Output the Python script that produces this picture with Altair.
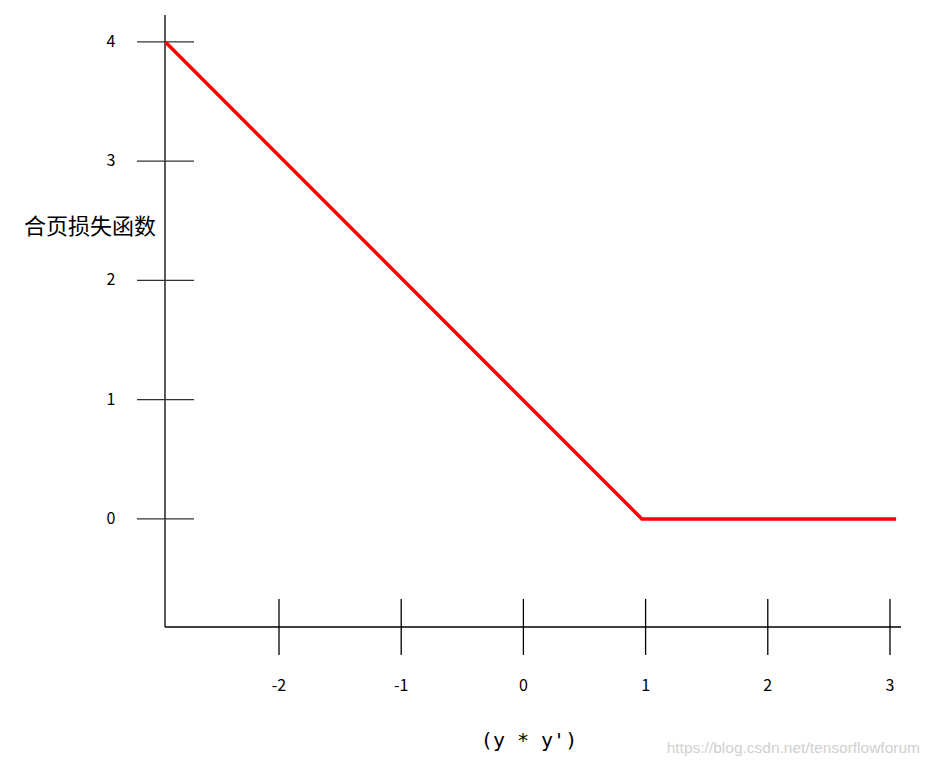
import altair as alt
import pandas as pd

# data
line_x = [-2.93, 0.97, 3.05]
line_y = [4, 0, 0]
x_ticks = [-2, -1, 0, 1, 2, 3]
y_ticks = [0, 1, 2, 3, 4]
x_title = "(y * y')"
y_title = "合页损失函数"
watermark = "https://blog.csdn.net/tensorflowforum"

W, H = 735, 612
FONT = "Noto Sans CJK SC"

xs = alt.Scale(domain=[-2.933, 3.082], nice=False, zero=False)
ys = alt.Scale(domain=[-0.906, 4.226], nice=False, zero=False)

line_df = pd.DataFrame({"x": line_x, "y": line_y})
xt_df = pd.DataFrame({"v": x_ticks, "lab": [str(v) for v in x_ticks]})
yt_df = pd.DataFrame({"v": y_ticks, "lab": [str(v) for v in y_ticks]})
one = pd.DataFrame({"a": [0]})

line = alt.Chart(line_df).mark_line(color="#ff0000", strokeWidth=3.5).encode(
    x=alt.X("x:Q", scale=xs, axis=None),
    y=alt.Y("y:Q", scale=ys, axis=None),
)

x_axis_line = alt.Chart(one).mark_rule(color="#000", strokeWidth=1.3).encode(
    x=alt.value(0), x2=alt.value(W + 1), y=alt.value(H)
)
y_axis_line = alt.Chart(one).mark_rule(color="#000", strokeWidth=1.3).encode(
    x=alt.value(0), y=alt.value(0), y2=alt.value(H)
)

x_tick_marks = alt.Chart(xt_df).mark_rule(color="#000", strokeWidth=1.3).encode(
    x=alt.X("v:Q", scale=xs, axis=None), y=alt.value(H - 28), y2=alt.value(H + 28)
)
y_tick_marks = alt.Chart(yt_df).mark_rule(color="#333", strokeWidth=1.3).encode(
    y=alt.Y("v:Q", scale=ys, axis=None), x=alt.value(-28), x2=alt.value(29)
)

x_labels = alt.Chart(xt_df).mark_text(
    font=FONT, fontSize=16, color="#000", align="center", baseline="middle"
).encode(x=alt.X("v:Q", scale=xs, axis=None), y=alt.value(H + 59), text="lab:N")

y_labels = alt.Chart(yt_df).mark_text(
    font=FONT, fontSize=16, color="#000", align="center", baseline="middle"
).encode(y=alt.Y("v:Q", scale=ys, axis=None), x=alt.value(-54), text="lab:N")

y_title_mark = alt.Chart(one).mark_text(
    font=FONT, fontSize=22, color="#000", align="center", baseline="middle", text=y_title
).encode(x=alt.value(-75), y=alt.value(212))

x_title_mark = alt.Chart(one).mark_text(
    font="DejaVu Sans Mono", fontSize=20, color="#000", align="center", baseline="middle", text=x_title
).encode(x=alt.value(364), y=alt.value(726))

wm = alt.Chart(one).mark_text(
    font="Liberation Sans", fontSize=15.5, color="#d0d0d0", align="right", baseline="middle", text=watermark
).encode(x=alt.value(755), y=alt.value(733))

chart = alt.layer(
    x_axis_line, y_axis_line, x_tick_marks, y_tick_marks,
    x_labels, y_labels, y_title_mark, x_title_mark, wm, line
).properties(
    width=W, height=H,
    background="white",
    autosize=alt.AutoSizeParams(type="none"),
    padding={"left": 157, "top": 7, "right": 22, "bottom": 131},
).configure_view(stroke=None)

chart.save("out.html", embed_options={"renderer": "svg", "actions": False})
